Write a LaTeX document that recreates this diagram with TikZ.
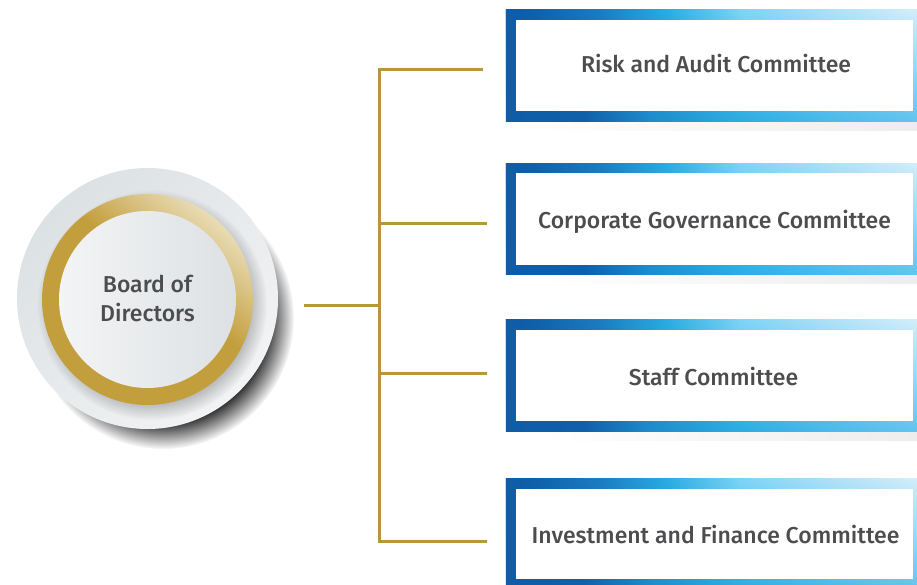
\documentclass[tikz,border=0pt]{standalone}
\usepackage{fontspec}
\setmainfont{Fira Sans}[UprightFont={* Medium}]
\usetikzlibrary{fadings,backgrounds}

% palette
\definecolor{txt}{HTML}{4D4D4F}
\definecolor{goldline}{HTML}{B8963C}
\definecolor{gold}{HTML}{C39E3C}
\definecolor{goldlight}{HTML}{E9DCB6}
\definecolor{discdark}{HTML}{DCE1E4}
\definecolor{disclight}{HTML}{F2F3F4}
\definecolor{innerlight}{HTML}{F3F4F5}
\definecolor{innerdark}{HTML}{DDE1E4}
% frame colours, bottom edge
\definecolor{fbA}{HTML}{0F5DA8}
\definecolor{fbB}{HTML}{0F5FAA}
\definecolor{fbC}{HTML}{1E8BCB}
\definecolor{fbD}{HTML}{2AACE2}
\definecolor{fbE}{HTML}{4BBAEB}
\definecolor{fbF}{HTML}{62C4EF}
% frame colours, top edge
\definecolor{ftB}{HTML}{0F5FAA}
\definecolor{ftC}{HTML}{1C7DC2}
\definecolor{ftD}{HTML}{2AACE2}
\definecolor{ftE}{HTML}{7ED4F6}
\definecolor{ftF}{HTML}{AEE1F8}
\definecolor{ftG}{HTML}{D3EEFB}

\pgfdeclarehorizontalshading{framebottom}{100bp}{%
  color(0bp)=(fbA); color(25bp)=(fbA); color(34.5bp)=(fbB); color(42.5bp)=(fbC);
  color(53bp)=(fbD); color(64.5bp)=(fbE); color(75bp)=(fbF); color(100bp)=(fbF)}
\pgfdeclarehorizontalshading{frametop}{100bp}{%
  color(0bp)=(fbA); color(25bp)=(fbA); color(28bp)=(ftB); color(36.5bp)=(ftC);
  color(44.5bp)=(ftD); color(53.5bp)=(ftE); color(64.5bp)=(ftF); color(75bp)=(ftG); color(100bp)=(ftG)}
\pgfdeclareverticalshading{goldring}{100bp}{%
  color(0bp)=(gold); color(25bp)=(gold); color(55bp)=(gold); color(75bp)=(goldlight); color(100bp)=(goldlight)}

\tikzset{
  label text/.style={text=txt, font=\fontsize{23}{29}\selectfont, inner sep=0pt},
  cbox/.style={rectangle, inner sep=0pt, minimum width=411pt, minimum height=111pt},
  board/.style={label text, circle, minimum size=261pt, align=center},
  branch/.style={draw=goldline, line width=3pt},
}

\begin{document}
\begin{tikzpicture}[x=1pt, y=-1pt]
\useasboundingbox (0,0) rectangle (917,585);

% committee frames
\node[cbox] (rac) at (711.5,65.5)  {};
\node[cbox] (cgc) at (711.5,219)   {};
\node[cbox] (stf) at (711.5,375.5) {};
\node[cbox, minimum height=110pt] (ifc) at (711.5,534) {};

% committee names
\node[label text, anchor=base] (rac-t) at (716,73)    {Risk and Audit Committee};
\node[label text, anchor=base] (cgc-t) at (714.5,229) {Corporate Governance Committee};
\node[label text, anchor=base] (stf-t) at (713.5,385) {Staff Committee};
\node[label text, anchor=base] (ifc-t) at (715.5,543) {Investment and Finance Committee};

% board disc
\node[board] (bod) at (147.5,298.5) {Board of\\Directors};

\begin{scope}[on background layer]
  % drop shadow of the disc
  \fill[black, fill opacity=0.8, path fading=circle with fuzzy edge 20 percent] (163,318) circle (131);
  \shade[top color=discdark, bottom color=disclight, shading angle=45] (bod.center) circle (130.5);
  % shadow of the ring on the disc
  \fill[black, fill opacity=0.3, path fading=circle with fuzzy edge 20 percent] (152,305) circle (115);
  \shade[shading=goldring, shading angle=-40] (147.5,299.5) circle (105.5);
  \shade[left color=innerlight, right color=innerdark] (147.5,299.5) circle (88.5);

  % frame layers: soft floor shadow, two-edge gradient border, white panel
  \foreach \n in {rac,cgc,stf,ifc} {
    \shade[left color=white, right color=black!7]
      ([xshift=34pt]\n.south west) rectangle ([yshift=-9pt]\n.south east);
    \shade[shading=framebottom] (\n.north west) rectangle (\n.south east);
    \shade[shading=frametop, path fading=south] (\n.north west) rectangle (\n.south east);
    \fill[white] ([xshift=10pt,yshift=-10pt]\n.north west) rectangle ([xshift=-4pt,yshift=10pt]\n.south east);
  }
\end{scope}

% connector tree
\coordinate (hub) at (379,305);
\coordinate (stem) at (304,305);
\coordinate (t1) at (379,70);
\coordinate (t2) at (379,224);
\coordinate (t3) at (379,373);
\coordinate (t4) at (379,541);
\coordinate (e1) at (483,70);
\coordinate (e2) at (487,224);
\coordinate (e3) at (487,373);
\coordinate (e4) at (487,541);

\draw[branch] (stem) -- (hub);
\draw[branch] (e1) -- (t1) -- (t4) -- (e4);
\draw[branch] (t2) -- (e2);
\draw[branch] (t3) -- (e3);
\end{tikzpicture}
\end{document}
